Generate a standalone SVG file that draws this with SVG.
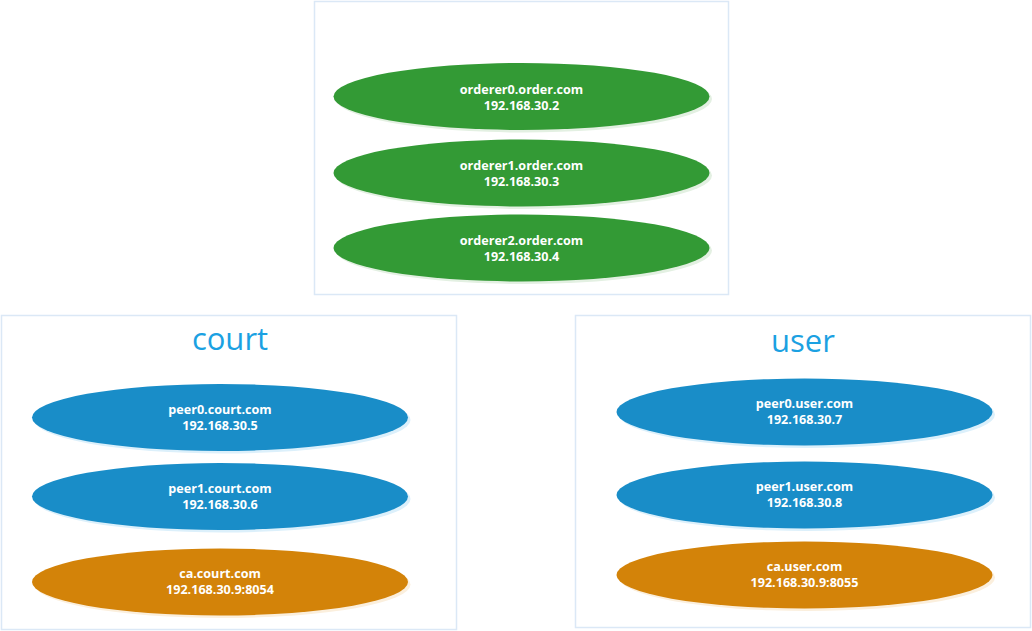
<svg xmlns="http://www.w3.org/2000/svg" width="1032" height="631" viewBox="0 0 1032 631">
<style>
.box{fill:#ffffff;stroke:#dbe8f6;stroke-width:1.5}
.title{font-family:"Open Sans","Noto Sans",sans-serif;font-size:31px;fill:#1ba1e2;text-anchor:middle}
.lbl{font-family:"Open Sans","Noto Sans",sans-serif;font-size:12.6px;font-weight:bold;fill:#ffffff;text-anchor:middle}
.g{fill:#339a35}.gs{fill:#e3f0e2}
.b{fill:#198dc8}.bs{fill:#dcf0fb}
.o{fill:#d38309}.os{fill:#fbefdd}
</style>
<rect width="1032" height="631" fill="#ffffff"/>
<g id="order-group">
<rect class="box" x="314.5" y="1.5" width="414" height="293"/>
</g>
<g id="court-group">
<rect class="box" x="1.5" y="315.5" width="455" height="314"/>
<text class="title" x="230" y="350">court</text>
</g>
<g id="user-group">
<rect class="box" x="575.5" y="315.5" width="455" height="312"/>
<text class="title" x="803" y="352">user</text>
</g>
<g id="orderer0">
<ellipse class="gs" cx="524" cy="99" rx="188" ry="33.5"/>
<ellipse class="g" cx="521.5" cy="96.5" rx="188" ry="33.5"/>
<text class="lbl" x="521.5" y="94">orderer0.order.com</text>
<text class="lbl" x="521.5" y="110">192.168.30.2</text>
</g>
<g id="orderer1">
<ellipse class="gs" cx="524" cy="175.5" rx="188" ry="33.5"/>
<ellipse class="g" cx="521.5" cy="173" rx="188" ry="33.5"/>
<text class="lbl" x="521.5" y="170">orderer1.order.com</text>
<text class="lbl" x="521.5" y="186">192.168.30.3</text>
</g>
<g id="orderer2">
<ellipse class="gs" cx="524" cy="250.5" rx="188" ry="33.5"/>
<ellipse class="g" cx="521.5" cy="248" rx="188" ry="33.5"/>
<text class="lbl" x="521.5" y="245">orderer2.order.com</text>
<text class="lbl" x="521.5" y="261">192.168.30.4</text>
</g>
<g id="peer0-court">
<ellipse class="bs" cx="222.5" cy="420" rx="188" ry="33.5"/>
<ellipse class="b" cx="220" cy="417.5" rx="188" ry="33.5"/>
<text class="lbl" x="220" y="414">peer0.court.com</text>
<text class="lbl" x="220" y="430">192.168.30.5</text>
</g>
<g id="peer1-court">
<ellipse class="bs" cx="222.5" cy="499" rx="188" ry="33.5"/>
<ellipse class="b" cx="220" cy="496.5" rx="188" ry="33.5"/>
<text class="lbl" x="220" y="493">peer1.court.com</text>
<text class="lbl" x="220" y="509">192.168.30.6</text>
</g>
<g id="ca-court">
<ellipse class="os" cx="222.5" cy="584.5" rx="188" ry="33.5"/>
<ellipse class="o" cx="220" cy="582" rx="188" ry="33.5"/>
<text class="lbl" x="220" y="578">ca.court.com</text>
<text class="lbl" x="220" y="594">192.168.30.9:8054</text>
</g>
<g id="peer0-user">
<ellipse class="bs" cx="807" cy="414.5" rx="188" ry="33.5"/>
<ellipse class="b" cx="804.5" cy="412" rx="188" ry="33.5"/>
<text class="lbl" x="804.5" y="408">peer0.user.com</text>
<text class="lbl" x="804.5" y="424">192.168.30.7</text>
</g>
<g id="peer1-user">
<ellipse class="bs" cx="807" cy="497.5" rx="188" ry="33.5"/>
<ellipse class="b" cx="804.5" cy="495" rx="188" ry="33.5"/>
<text class="lbl" x="804.5" y="491">peer1.user.com</text>
<text class="lbl" x="804.5" y="507">192.168.30.8</text>
</g>
<g id="ca-user">
<ellipse class="os" cx="807" cy="577.5" rx="188" ry="33.5"/>
<ellipse class="o" cx="804.5" cy="575" rx="188" ry="33.5"/>
<text class="lbl" x="804.5" y="571">ca.user.com</text>
<text class="lbl" x="804.5" y="587">192.168.30.9:8055</text>
</g>
<g id="connectors"></g>
</svg>
